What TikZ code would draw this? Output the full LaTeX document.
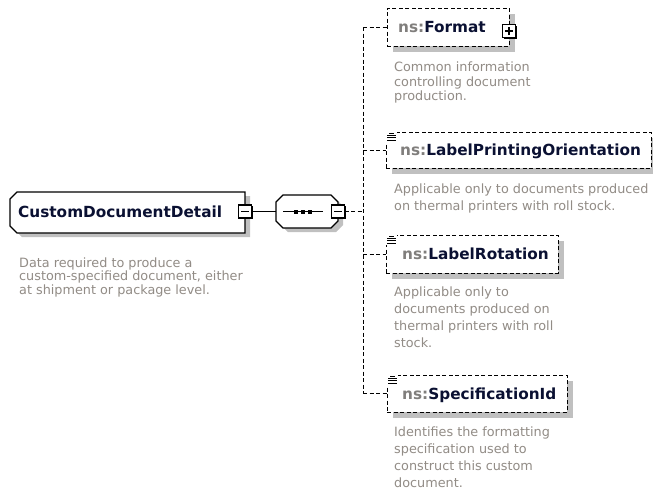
\documentclass[tikz,border=0pt]{standalone}
\usepackage{fontspec}
\setmainfont{DejaVu Sans}
\usetikzlibrary{shadows}
\definecolor{shadowgray}{RGB}{192,192,192}
\definecolor{namecol}{RGB}{10,16,50}
\definecolor{nscol}{RGB}{128,126,124}
\definecolor{desccol}{RGB}{146,140,134}
\tikzset{
  anchorbox/.style={rectangle, draw=none, fill=none, inner sep=0pt, outer sep=0pt},
  solidline/.style={draw=black, line width=1.2pt},
  dashline/.style={draw=black, line width=1pt, dash pattern=on 4pt off 2.5pt},
  boxfill/.style={fill=white, draw=black, line width=1.2pt, line join=miter},
  elembox/.style={rectangle, draw=black, fill=white, line width=1pt, dash pattern=on 4pt off 2.5pt, inner sep=0pt, outer sep=0pt,
    general shadow={fill=shadowgray, shadow xshift=6pt, shadow yshift=-6pt}},
  pmbox/.style={rectangle, draw=black, fill=white, line width=1.1pt, minimum size=13pt, inner sep=0pt, outer sep=0pt,
    general shadow={fill=black, shadow xshift=1.4pt, shadow yshift=-1.4pt}},
  pmline/.style={draw=black, line width=1.1pt},
  nametext/.style={anchor=base west, inner sep=0pt, font=\fontsize{15.3}{18}\selectfont\bfseries, text=namecol},
  desctext/.style={anchor=north west, inner sep=0pt, align=left, text=desccol},
  simpleicon/.pic={
    \fill[white] (-1.5,-1.5) rectangle (10.5,10);
    \draw[line width=0.8pt] (3,1) -- (8,1);
    \draw[line width=0.8pt] (1,3.5) -- (9.5,3.5);
    \draw[line width=0.8pt] (1,5.8) -- (9.5,5.8);
    \draw[line width=0.8pt] (1,8.1) -- (9.5,8.1);
  }
}
\begin{document}
\begin{tikzpicture}[x=1pt,y=-1pt]
\useasboundingbox (0,0) rectangle (653,493);
\fill[white] (0,0) rectangle (653,493);

% geometry anchors of the two octagonal shapes
\node[anchorbox, minimum width=235pt, minimum height=41pt] (cdd) at (127.5,212.5) {};
\node[anchorbox, minimum width=62pt, minimum height=33pt] (seq) at (307,211.5) {};

% main element shape
\begin{scope}[shift={(5,4)}]
  \fill[shadowgray] (17,192) -- (245,192) -- (245,233) -- (17,233) -- (10,226) -- (10,199) -- cycle;
\end{scope}
\draw[boxfill] (17,192) -- (245,192) -- (245,233) -- (17,233) -- (10,226) -- (10,199) -- cycle;

% sequence compositor
\begin{scope}[shift={(5,4)}]
  \fill[shadowgray] (283,195) -- (331,195) -- (338,202) -- (338,221) -- (331,228) -- (283,228) -- (276,221) -- (276,202) -- cycle;
\end{scope}
\draw[boxfill] (283,195) -- (331,195) -- (338,202) -- (338,221) -- (331,228) -- (283,228) -- (276,221) -- (276,202) -- cycle;
\draw[line width=1.2pt] (283,211.5) -- (323,211.5);
\fill (293.5,209.5) rectangle +(4,4);
\fill (300.5,209.5) rectangle +(4,4);
\fill (307.5,209.5) rectangle +(4,4);

% child elements
\node[elembox, minimum width=122pt, minimum height=38pt] (fmt) at (448,27) {};
\node[elembox, minimum width=265pt, minimum height=36pt] (lpo) at (518.5,150) {};
\node[elembox, minimum width=172pt, minimum height=38pt] (lrot) at (472,254) {};
\node[elembox, minimum width=180pt, minimum height=37pt] (spec) at (477,393.5) {};

\pic at (lpo.north west) {simpleicon};
\pic at (lrot.north west) {simpleicon};
\pic at (spec.north west) {simpleicon};

% labels
\node[nametext] (cddlabel) at (18,217.2) {CustomDocumentDetail};
\node[nametext] (fmtlabel) at (398,32.5) {\textcolor{nscol}{ns:}Format};
\node[nametext] (lpolabel) at (400,155.5) {\textcolor{nscol}{ns:}LabelPrintingOrientation};
\node[nametext] (lrotlabel) at (402,259.5) {\textcolor{nscol}{ns:}LabelRotation};
\node[nametext] (speclabel) at (402,399) {\textcolor{nscol}{ns:}SpecificationId};

% descriptions
\node[desctext, font=\fontsize{12.8}{13.5}\selectfont] (cdddesc) at (19,257.5)
  {Data required to produce a\\custom-specified document, either\\at shipment or package level.};
\node[desctext, font=\fontsize{12.8}{14.2}\selectfont] (fmtdesc) at (394,62)
  {Common information\\controlling document\\production.};
\node[desctext, font=\fontsize{12.8}{16.5}\selectfont] (lpodesc) at (394,183.8)
  {Applicable only to documents produced\\on thermal printers with roll stock.};
\node[desctext, font=\fontsize{12.8}{16.8}\selectfont] (lrotdesc) at (394,286.8)
  {Applicable only to\\documents produced on\\thermal printers with roll\\stock.};
\node[desctext, font=\fontsize{12.8}{16.8}\selectfont] (specdesc) at (394,426.8)
  {Identifies the formatting\\specification used to\\construct this custom\\document.};

% expand / collapse buttons
\node[pmbox] (m1) at (245,211.5) {};
\draw[pmline] ([xshift=-4pt]m1.center) -- ([xshift=4pt]m1.center);
\node[pmbox] (m2) at (338,211.5) {};
\draw[pmline] ([xshift=-4pt]m2.center) -- ([xshift=4pt]m2.center);
\node[pmbox] (p1) at (509,31) {};
\draw[pmline] ([xshift=-4pt]p1.center) -- ([xshift=4pt]p1.center);
\draw[pmline] ([yshift=-4pt]p1.center) -- ([yshift=4pt]p1.center);

% connectors
\coordinate (jtop) at (363,27);
\coordinate (jmid) at (363,211.5);
\coordinate (jbot) at (363,393.5);
\draw[solidline] (m1.east) -- (seq.west);
\draw[dashline] (m2.east) -- (jmid);
\draw[dashline] (jtop) -- (jbot);
\draw[dashline] (jtop) -- (fmt.west);
\draw[dashline] (jtop |- lpo.west) -- (lpo.west);
\draw[dashline] (jtop |- lrot.west) -- (lrot.west);
\draw[dashline] (jbot) -- (spec.west);
\end{tikzpicture}
\end{document}
